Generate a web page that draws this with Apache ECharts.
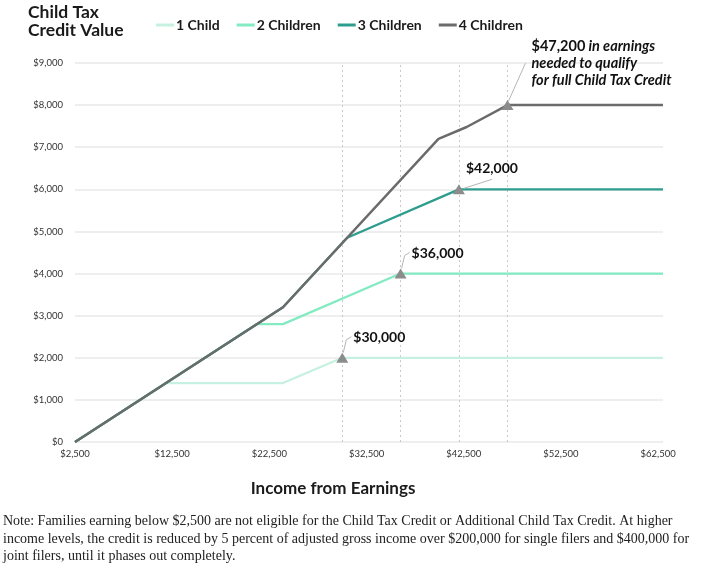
<!DOCTYPE html>
<html>
<head>
<meta charset="utf-8">
<script src="https://cdn.jsdelivr.net/npm/echarts@6/dist/echarts.min.js"></script>
<style>
  html, body { margin: 0; padding: 0; background: #fff; }
  #chart { width: 708px; height: 566px; }
</style>
</head>
<body>
<div id="chart"></div>
<script>
// values (income in $, credit in $)
const seriesNames = ['1 Child', '2 Children', '3 Children', '4 Children'];
const oneChild = [[2500, 0], [11900, 1400], [23900, 1400], [30000, 2000], [63000, 2000]];
const twoChildren = [[2500, 0], [21200, 2800], [23900, 2800], [36000, 4000], [63000, 4000]];
const threeChildren = [[2500, 0], [23900, 3200], [30500, 4850], [42000, 6000], [63000, 6000]];
const fourChildren = [[2500, 0], [23900, 3200], [39900, 7200], [42800, 7480], [47000, 8000], [63000, 8000]];
const xTicks = [2500, 12500, 22500, 32500, 42500, 52500, 62500];
const thresholds = [[30000, 2000], [36000, 4000], [42000, 6000], [47000, 8000]];
const thresholdLabels = ['$30,000', '$36,000', '$42,000', '$47,200'];

const colors = ['#c6f0df', '#84eac2', '#2e9d8d', '#6b6b6b'];
const money = v => '$' + v.toLocaleString('en-US');

const chart = echarts.init(document.getElementById('chart'), null, {renderer: 'canvas'});

const lines = [oneChild, twoChildren, threeChildren, fourChildren];

chart.setOption({
    animation: false,
    color: colors,
    grid: {left: 75, right: 45, top: 63, bottom: 124},
    legend: {
        left: 151, top: 13,
        icon: 'rect',
        itemWidth: 18, itemHeight: 3, itemGap: 17,
        textStyle: {fontFamily: 'Lato', fontWeight: 'bold', fontSize: 14, color: '#1a1a1a', padding: [0, 0, 0, -3]},
        data: seriesNames
    },
    xAxis: {
        type: 'value', min: 2500, max: 63000,
        axisLine: {show: false},
        axisTick: {show: false},
        splitLine: {show: false},
        axisLabel: {
            customValues: xTicks,
            formatter: v => money(v),
            fontFamily: 'Lato', fontSize: 9.5, color: '#333', margin: 7
        }
    },
    yAxis: {
        type: 'value', min: 0, max: 9000, interval: 1000,
        axisLine: {show: false},
        axisTick: {show: false},
        splitLine: {lineStyle: {color: '#e8e8e8', width: 1.5}},
        axisLabel: {formatter: v => money(v), fontFamily: 'Lato', fontSize: 9.5, color: '#333', margin: 12}
    },
    series: lines.map((d, i) => ({
        name: seriesNames[i],
        type: 'line',
        data: d,
        symbol: 'none',
        lineStyle: {width: i === 3 ? 2.5 : 2.3, color: colors[i]},
        z: 2 + i,
        markPoint: {
            symbol: 'triangle',
            symbolSize: [12, 10],
            itemStyle: {color: '#8c8c8c'},
            label: {show: false},
            data: [{coord: thresholds[i]}],
            z: 10
        },
        markLine: i === 3 ? {
            silent: true,
            symbol: 'none',
            label: {show: false},
            lineStyle: {color: '#c8c8c8', type: [2, 3], width: 1},
            data: thresholds.map(t => ({xAxis: t[0]})),
            z: 1
        } : undefined
    }))
});

// annotations placed relative to the threshold points
const g = [];
thresholds.forEach((t, i) => {
    const p = chart.convertToPixel({gridIndex: 0}, t);
    const leader = {stroke: '#b5b5b5', lineWidth: 1, fill: null};
    if (i < 2) {
        g.push({type: 'polyline', shape: {points: [[p[0] + 1, p[1] - 5], [p[0] + 4, p[1] - 18], [p[0] + 9, p[1] - 21]]}, style: leader, z: 20});
        g.push({type: 'text', x: p[0] + 11, y: p[1] - 20,
            style: {text: thresholdLabels[i], font: 'bold 14px Lato', fill: '#111', verticalAlign: 'middle'}, z: 20});
    } else if (i === 2) {
        g.push({type: 'polyline', shape: {points: [[p[0] + 5, p[1] - 1], [p[0] + 33, p[1] - 10]]}, style: leader, z: 20});
        g.push({type: 'text', x: p[0] + 7, y: p[1] - 21,
            style: {text: thresholdLabels[i], font: 'bold 14px Lato', fill: '#111', verticalAlign: 'middle'}, z: 20});
    } else {
        g.push({type: 'polyline', shape: {points: [[p[0] + 1, p[1] - 4], [p[0] + 18, p[1] - 42]]}, style: leader, z: 20});
        g.push({type: 'text', x: p[0] + 24, y: p[1] - 67,
            style: {
                text: '{b|' + thresholdLabels[i] + '}{i| in earnings}\n{i|needed to qualify}\n{i|for full Child Tax Credit}',
                fill: '#111',
                rich: {
                    b: {font: 'bold 14.5px Lato', lineHeight: 17, fill: '#111'},
                    i: {font: 'italic bold 14.5px Lato', lineHeight: 17, fill: '#111'}
                }
            }, z: 20});
    }
});

g.push({type: 'text', left: 28, top: 3,
    style: {text: 'Child Tax\nCredit Value', font: 'bold 17.5px Lato', lineHeight: 18, fill: '#1a1a1a'}});
g.push({type: 'text', x: 333, y: 489,
    style: {text: 'Income from Earnings', font: 'bold 17px Lato', fill: '#1a1a1a', align: 'center', verticalAlign: 'middle'}});
g.push({type: 'text', left: 3, top: 513,
    style: {
        text: 'Note: Families earning below $2,500 are not eligible for the Child Tax Credit or Additional Child Tax Credit. At higher\n' +
              'income levels, the credit is reduced by 5 percent of adjusted gross income over $200,000 for single filers and $400,000 for\n' +
              'joint filers, until it phases out completely.',
        font: '14px "Liberation Serif"', lineHeight: 17.5, fill: '#222'
    }});

chart.setOption({graphic: g});
</script>
</body>
</html>
